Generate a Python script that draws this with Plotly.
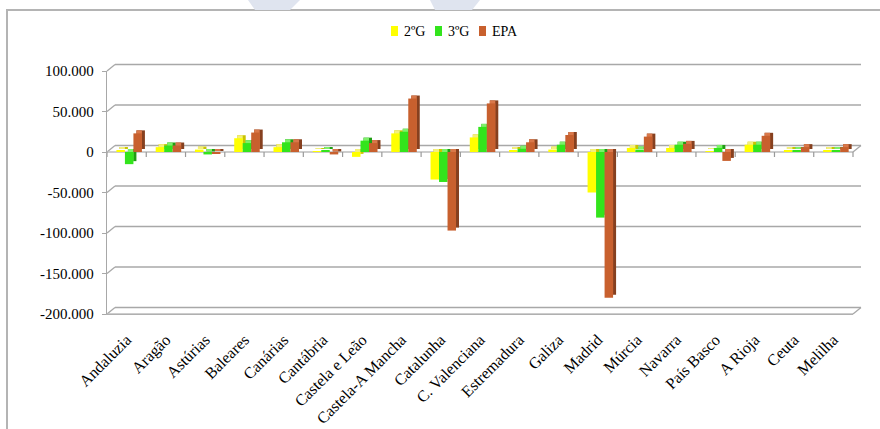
import plotly.graph_objects as go

# ---- data -------------------------------------------------------------
categorias = ["Andaluzia", "Aragão", "Astúrias", "Baleares", "Canárias",
              "Cantábria", "Castela e Leão", "Castela-A Mancha", "Catalunha",
              "C. Valenciana", "Estremadura", "Galiza", "Madrid", "Múrcia",
              "Navarra", "País Basco", "A Rioja", "Ceuta", "Melilha"]

serie_2g = [2000, 6000, 3000, 17000, 6000, 1000, -6000, 23000, -34000, 18000,
            2000, 3000, -50000, 5000, 5000, 1000, 9000, 1500, 1500]
serie_3g = [-15000, 8000, -3000, 11000, 12000, 2000, 14000, 25000, -37000, 31000,
            4000, 9000, -81000, 3000, 9000, 5000, 9000, 2500, 2000]
serie_epa = [23000, 8000, -2000, 24000, 12000, -3000, 11000, 66000, -97000, 60000,
             12000, 21000, -180000, 19000, 10000, -11000, 20000, 6000, 6000]

nomes_series = ["2ºG", "3ºG", "EPA"]
y_ticks = [100000, 50000, 0, -50000, -100000, -150000, -200000]
y_labels = ["100.000", "50.000", "0", "-50.000", "-100.000", "-150.000", "-200.000"]

# ---- styling ----------------------------------------------------------
W, H = 880, 429
M_L, M_R, M_T, M_B = 107, 27, 71, 115
PLOT_W = W - M_L - M_R
PLOT_H = H - M_T - M_B
Y_MIN, Y_MAX = -200000, 100000

FONT = "Liberation Serif, Times New Roman, serif"
GRID = "#a8a8a8"
# front / top / side colour of each series (pseudo 3-D bars)
cores = [("#ffff00", "#f4f07a", "#c9c400"),
         ("#33e41c", "#7ef06a", "#1f9e12"),
         ("#c8602e", "#d9784a", "#86401f")]

BAR_W = 0.2165              # bar width in category units
OFFSETS = [-0.26, -0.0435, 0.173]
DX = 3 / 39.26              # 3 px depth shift, in category units
DY = 3 * (Y_MAX - Y_MIN) / PLOT_H   # 3 px depth shift, in value units
DEPTH_X, DEPTH_Y = 8, 6.5   # back-wall offset in pixels


def yfrac(v):
    return (v - Y_MIN) / (Y_MAX - Y_MIN)


fig = go.Figure()
for nome, vals, off, (front, top, side) in zip(
        nomes_series, [serie_2g, serie_3g, serie_epa], OFFSETS, cores):
    n = len(vals)
    # side face
    fig.add_trace(go.Bar(x=categorias, y=vals, base=[DY] * n, offset=off + DX,
                         width=BAR_W, marker=dict(color=side, line=dict(width=0)),
                         showlegend=False, hoverinfo="skip"))
    # top face
    fig.add_trace(go.Bar(x=categorias, y=vals, base=[DY] * n, offset=off + DX,
                         width=BAR_W - DX, marker=dict(color=top, line=dict(width=0)),
                         showlegend=False, hoverinfo="skip"))
    # front face
    fig.add_trace(go.Bar(x=categorias, y=vals, offset=off, width=BAR_W, name=nome,
                         marker=dict(color=front, line=dict(width=0)),
                         showlegend=False))

shapes = []
# outer chart frame
shapes.append(dict(type="rect", xref="paper", yref="paper",
                   xsizemode="pixel", xanchor=0, x0=-100, x1=800,
                   ysizemode="pixel", yanchor=1, y0=61, y1=-420,
                   line=dict(color="#b4b4b4", width=2), layer="below"))
# faint watermark at the top edge
for path in ["M141,71 L193,71 L183,61 L148,61 Z",
             "M323,71 L373,71 L365,61 L328,61 Z"]:
    shapes.append(dict(type="path", xref="paper", yref="paper",
                       xsizemode="pixel", xanchor=0, ysizemode="pixel", yanchor=1,
                       path=path, fillcolor="#dfe4ef", line=dict(width=0),
                       layer="below"))

# back-wall gridlines with the side-wall diagonal
for v in y_ticks:
    yf = yfrac(v)
    shapes.append(dict(type="line", xref="paper", yref="paper",
                       xsizemode="pixel", xanchor=0, x0=0, x1=DEPTH_X,
                       ysizemode="pixel", yanchor=yf, y0=0, y1=DEPTH_Y,
                       line=dict(color=GRID, width=1.3), layer="below"))
    shapes.append(dict(type="line", xref="paper", yref="paper",
                       xsizemode="pixel", xanchor=0, x0=DEPTH_X, x1=DEPTH_X + PLOT_W,
                       ysizemode="pixel", yanchor=yf, y0=DEPTH_Y, y1=DEPTH_Y,
                       line=dict(color=GRID, width=1.5), layer="below"))

# floor slabs: zero line and bottom
for v in (0, Y_MIN):
    yf = yfrac(v)
    shapes.append(dict(type="line", xref="paper", yref="paper",
                       x0=0, x1=1, y0=yf, y1=yf,
                       line=dict(color="#bdbdbd", width=1.3), layer="below"))
    shapes.append(dict(type="line", xref="paper", yref="paper",
                       xsizemode="pixel", xanchor=1, x0=0, x1=DEPTH_X,
                       ysizemode="pixel", yanchor=yf, y0=0, y1=DEPTH_Y,
                       line=dict(color=GRID, width=1.3), layer="below"))

# category separators on the zero floor
n_cat = len(categorias)
for i in range(n_cat + 1):
    shapes.append(dict(type="line", xref="paper", yref="paper",
                       x0=i / n_cat, x1=i / n_cat,
                       ysizemode="pixel", yanchor=yfrac(0), y0=0, y1=-5,
                       line=dict(color="#9a9a9a", width=1.2), layer="below"))

# legend: small squares + labels
legend_pos = [(391, 401.5), (435, 445.5), (479, 489.5)]
annotations = []
for (sq_x, tx_x), nome, (front, _, _) in zip(legend_pos, nomes_series, cores):
    shapes.append(dict(type="rect", xref="paper", yref="paper",
                       xsizemode="pixel", xanchor=0, x0=sq_x - M_L, x1=sq_x - M_L + 7,
                       ysizemode="pixel", yanchor=1, y0=M_T - 31 - 5, y1=M_T - 31 + 5,
                       fillcolor=front, line=dict(width=0)))
    annotations.append(dict(text=nome, xref="paper", yref="paper", x=0, y=1,
                            xshift=tx_x - M_L, yshift=M_T - 31,
                            xanchor="left", yanchor="middle", showarrow=False,
                            font=dict(family=FONT, size=14, color="#000000")))

fig.update_layout(
    width=W, height=H,
    margin=dict(l=M_L, r=M_R, t=M_T, b=M_B),
    paper_bgcolor="white", plot_bgcolor="rgba(0,0,0,0)",
    barmode="overlay",
    font=dict(family=FONT, size=15, color="#000000"),
    shapes=shapes, annotations=annotations,
    xaxis=dict(range=[-0.5, n_cat - 0.5], tickangle=-45, showgrid=False,
               zeroline=False, showline=True, linecolor="#b0b0b0", linewidth=1.3,
               ticks="", ticklabelstandoff=9, automargin=False,
               tickfont=dict(family=FONT, size=16, color="#000000")),
    yaxis=dict(range=[Y_MIN, Y_MAX], tickvals=y_ticks, ticktext=y_labels,
               showgrid=False, zeroline=False, showline=True,
               linecolor="#a8a8a8", linewidth=1.3, ticks="outside", ticklen=4,
               tickcolor="#a8a8a8", ticklabelstandoff=5, automargin=False,
               tickfont=dict(family=FONT, size=15, color="#000000")),
)

fig.write_html("out.html")
